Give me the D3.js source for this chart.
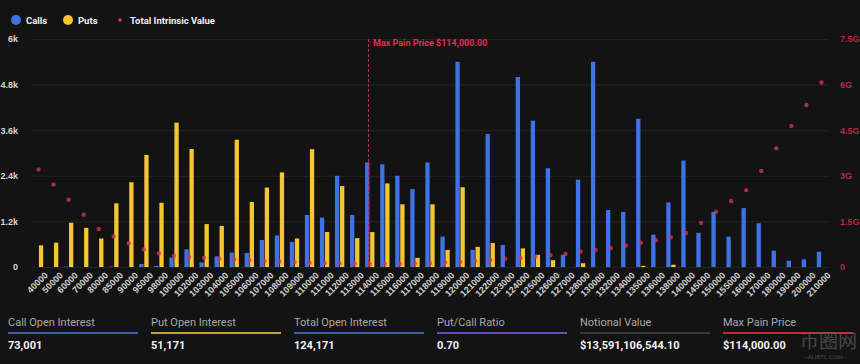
<!DOCTYPE html>
<html>
<head>
<meta charset="utf-8">
<script src="https://cdn.jsdelivr.net/npm/d3@7"></script>
<style>
	html, body { margin: 0; padding: 0; background: #131313; }
	svg { display: block; font-family: Roboto, "Noto Sans", sans-serif; }
</style>
</head>
<body>
<svg class="oi-chart"></svg>
<script>
	var strikes = ['40000', '50000', '60000', '70000', '80000', '85000', '90000', '95000', '98000', '100000',
		'102000', '103000', '104000', '105000', '106000', '107000', '108000', '109000', '110000', '111000',
		'112000', '113000', '114000', '115000', '116000', '117000', '118000', '119000', '120000', '121000',
		'122000', '123000', '124000', '125000', '126000', '127000', '128000', '130000', '132000', '134000',
		'135000', '136000', '138000', '140000', '145000', '150000', '155000', '160000', '170000', '180000',
		'190000', '200000', '210000'];

	var calls = [0, 0, 10, 0, 0, 10, 0, 80, 30, 250,
		465, 120, 280, 380, 370, 710, 830, 660, 1370, 1300,
		2400, 1370, 2750, 2700, 2400, 2050, 2750, 800, 5400, 450,
		3500, 580, 5000, 3850, 2600, 320, 2300, 5400, 1500, 1450,
		3900, 850, 1700, 2800, 900, 1450, 800, 1550, 1150, 430,
		165, 200, 400];

	var puts = [570, 640, 1165, 1030, 750, 1675, 2230, 2950, 1690, 3800,
		3105, 1130, 1080, 3350, 1710, 2090, 2490, 750, 3100, 920,
		2130, 760, 920, 2200, 1650, 240, 1650, 450, 2100, 530,
		630, 0, 490, 320, 180, 0, 100, 0, 0, 0,
		30, 0, 60, 0, 0, 0, 0, 0, 0, 0,
		0, 0, 0];

	// total intrinsic value, in billions
	var intrinsic = [3.21, 2.71, 2.21, 1.72, 1.25, 1.01, 0.78, 0.58, 0.45, 0.37,
		0.33, 0.30, 0.27, 0.25, 0.22, 0.20, 0.18, 0.16, 0.14, 0.13,
		0.12, 0.11, 0.10, 0.10, 0.11, 0.12, 0.13, 0.15, 0.17, 0.20,
		0.23, 0.27, 0.30, 0.34, 0.39, 0.43, 0.50, 0.56, 0.62, 0.70,
		0.80, 0.88, 0.98, 1.12, 1.45, 1.82, 2.17, 2.53, 3.16, 3.91,
		4.64, 5.33, 6.07];

	var leftTicks = [0, 1200, 2400, 3600, 4800, 6000],
		leftTickLabels = ['0', '1.2k', '2.4k', '3.6k', '4.8k', '6k'],
		rightTicks = [0, 1.5, 3, 4.5, 6, 7.5],
		rightTickLabels = ['0', '1.5G', '3G', '4.5G', '6G', '7.5G'];

	var maxPainStrike = '114000',
		maxPainLabel = 'Max Pain Price $114,000.00';

	var statLabels = ['Call Open Interest', 'Put Open Interest', 'Total Open Interest', 'Put/Call Ratio', 'Notional Value', 'Max Pain Price'],
		statValues = ['73,001', '51,171', '124,171', '0.70', '$13,591,106,544.10', '$114,000.00'],
		statColours = ['#3f5db8', '#c9a431', '#3f5db8', '#6a48c8', '#3a3a3a', '#c8243c'];

	(function () {
		var width = 860,
			height = 364,
			plotTop = 39,
			plotBottom = 267,
			plotLeft = 31,
			plotRight = 829,
			callColour = '#3e72e6',
			putColour = '#f4c631',
			redColour = '#d8355a';

		var svg = d3.select('.oi-chart')
			.attr('width', width)
			.attr('height', height);

		var x = d3.scaleBand()
			.domain(strikes)
			.range([plotLeft, plotRight])
			.paddingInner(0.38)
			.paddingOuter(0.19);

		var sub = d3.scaleBand()
			.domain(['calls', 'puts'])
			.range([0, x.bandwidth()])
			.paddingInner(0.15);

		var y = d3.scaleLinear().domain([0, 6000]).range([plotBottom, plotTop]),
			y2 = d3.scaleLinear().domain([0, 7.5]).range([plotBottom, plotTop]);

		// Gridlines
		svg.append('g')
			.selectAll('line')
			.data(leftTicks).enter()
			.append('line')
				.attr('x1', plotLeft)
				.attr('x2', plotRight)
				.attr('y1', function (d) {return y(d) + 0.5;})
				.attr('y2', function (d) {return y(d) + 0.5;})
				.style('stroke', '#232323')
				.style('stroke-width', 1);

		// Left axis
		var leftAxis = svg.append('g')
			.attr('transform', 'translate(' + (plotLeft - 10) + ',0)')
			.call(d3.axisLeft(y)
				.tickValues(leftTicks)
				.tickSize(0)
				.tickFormat(function (d, i) {return leftTickLabels[i];}));
		leftAxis.select('.domain').remove();
		leftAxis.selectAll('text')
			.attr('dy', '0.32em')
			.style('fill', '#d6d6d6')
			.style('font-size', '9px')
			.style('font-weight', 'bold');

		// Right axis
		var rightAxis = svg.append('g')
			.attr('transform', 'translate(' + (plotRight + 8) + ',0)')
			.call(d3.axisRight(y2)
				.tickValues(rightTicks)
				.tickSize(0)
				.tickFormat(function (d, i) {return rightTickLabels[i];}));
		rightAxis.select('.domain').remove();
		rightAxis.selectAll('text')
			.attr('dy', '0.32em')
			.style('fill', '#b32a45')
			.style('font-size', '9px')
			.style('font-weight', 'bold');

		// Bottom axis
		var bottomAxis = svg.append('g')
			.attr('transform', 'translate(0,' + plotBottom + ')')
			.call(d3.axisBottom(x).tickSize(0));
		bottomAxis.select('.domain').remove();
		bottomAxis.selectAll('text')
			.attr('transform', 'translate(4,3) rotate(-45)')
			.attr('dy', '0.6em')
			.style('text-anchor', 'end')
			.style('fill', '#d0d0d0')
			.style('font-size', '9px')
			.style('font-weight', 'bold');

		// Bars
		var groups = svg.append('g')
			.attr('class', 'bars')
			.selectAll('g')
			.data(strikes).enter()
			.append('g')
				.attr('transform', function (d) {return 'translate(' + x(d) + ',0)';});

		groups.append('rect')
			.attr('x', sub('calls'))
			.attr('width', sub.bandwidth())
			.attr('y', function (d, i) {return y(calls[i]);})
			.attr('height', function (d, i) {return y(0) - y(calls[i]);})
			.style('fill', callColour);

		groups.append('rect')
			.attr('x', sub('puts'))
			.attr('width', sub.bandwidth())
			.attr('y', function (d, i) {return y(puts[i]);})
			.attr('height', function (d, i) {return y(0) - y(puts[i]);})
			.style('fill', putColour);

		// Intrinsic value dots
		svg.append('g')
			.selectAll('circle')
			.data(strikes).enter()
			.append('circle')
				.attr('cx', function (d) {return x(d) + x.bandwidth() / 2;})
				.attr('cy', function (d, i) {return y2(intrinsic[i]);})
				.attr('r', 2.2)
				.style('fill', redColour)
				.style('opacity', 0.75);

		// Max pain marker
		var mp = Math.round(x(maxPainStrike) + x.bandwidth() / 2) - 1.5;
		svg.append('line')
			.attr('x1', mp)
			.attr('x2', mp)
			.attr('y1', plotTop)
			.attr('y2', plotBottom)
			.style('stroke', '#b8304e')
			.style('stroke-width', 1)
			.style('stroke-dasharray', '3,2');

		svg.append('text')
			.attr('x', mp + 4.5)
			.attr('y', 46)
			.text(maxPainLabel)
			.style('fill', '#e0304f')
			.style('font-size', '9px')
			.style('font-weight', 'bold');

		// Legend
		var legend = svg.append('g').attr('class', 'legend');
		var legendItems = [
			{label: 'Calls', colour: callColour, r: 5, x: 16},
			{label: 'Puts', colour: putColour, r: 5, x: 68},
			{label: 'Total Intrinsic Value', colour: redColour, r: 1.8, x: 120}
		];
		legendItems.forEach(function (d) {
			legend.append('circle')
				.attr('cx', d.x)
				.attr('cy', 20)
				.attr('r', d.r)
				.style('fill', d.colour);
			legend.append('text')
				.attr('x', d.x + 10)
				.attr('y', 23.5)
				.text(d.label)
				.style('fill', '#f0f0f0')
				.style('font-size', '9.5px')
				.style('font-weight', 'bold');
		});

		// Stats panel
		var stats = svg.append('g')
			.attr('class', 'stats')
			.selectAll('g')
			.data(statLabels).enter()
			.append('g')
				.attr('transform', function (d, i) {return 'translate(' + (8 + i * 143) + ',0)';});

		stats.append('text')
			.attr('y', 326)
			.text(function (d) {return d;})
			.style('fill', '#a8a8a8')
			.style('font-size', '11px');

		stats.append('line')
			.attr('x1', 0)
			.attr('x2', 130)
			.attr('y1', 333)
			.attr('y2', 333)
			.style('stroke', function (d, i) {return statColours[i];})
			.style('stroke-width', 2);

		stats.append('text')
			.attr('y', 349)
			.text(function (d, i) {return statValues[i];})
			.style('fill', '#f2f2f2')
			.style('font-size', '11px')
			.style('font-weight', 'bold');

		// Watermark
		svg.append('text')
			.attr('x', 800)
			.attr('y', 348)
			.text('币圈网')
			.style('fill', '#6a6a6a')
			.style('opacity', 0.6)
			.style('font-family', '"Noto Sans CJK SC"')
			.style('font-size', '19px');
		svg.append('text')
			.attr('x', 803)
			.attr('y', 359)
			.text('—ALIBTC.COM—')
			.style('fill', '#6a6a6a')
			.style('opacity', 0.6)
			.style('font-size', '6px');
	})();
</script>
</body>
</html>
